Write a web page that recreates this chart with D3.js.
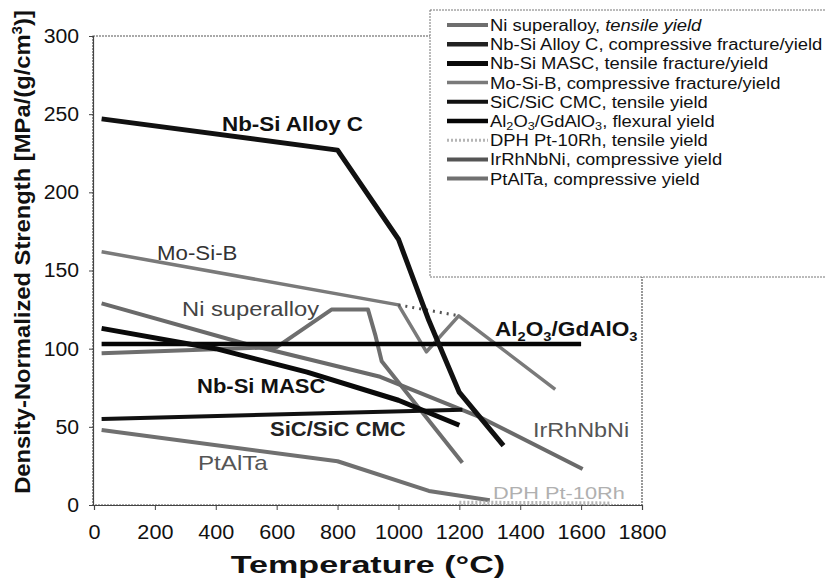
<!DOCTYPE html>
<html><head><meta charset="utf-8">
<script src="https://cdn.jsdelivr.net/npm/d3@7"></script>
<style>
html,body{margin:0;padding:0;background:#fff;}
svg{display:block;font-family:"Liberation Sans",Arial,Helvetica,sans-serif;}
</style></head>
<body><svg id="c" width="826" height="580"></svg>
<script>
// ---- data (Temperature °C, Density-normalized strength MPa/(g/cm3)) ----
const xTicks = [0,200,400,600,800,1000,1200,1400,1600,1800];
const yTicks = [0,50,100,150,200,250,300];
const niSuperalloy = [[25,97],[600,101],[780,125],[900,125],[925,108],[945,92],[1210,27]];
const nbSiAlloyC   = [[25,247],[800,227],[1000,170],[1100,118],[1200,72],[1345,38]];
const nbSiMASC     = [[25,113],[400,100],[700,85],[1000,67],[1200,51]];
const moSiB        = [[25,162],[1000,128],[1092,98],[1198,121],[1515,74]];
const moSiBDotted  = [[1000,128],[1200,121]];
const sicSicCMC    = [[25,55],[1210,61]];
const al2o3        = [[25,103],[1600,103]];
const dphPt10Rh    = [[1200,1.5],[1700,1]];
const irRhNbNi     = [[25,129],[500,103],[940,82],[1270,56],[1605,23]];
const ptAlTa       = [[25,48],[800,28],[1100,9],[1300,3]];
const legendLabels = ["Ni superalloy, ","Nb-Si Alloy C, compressive fracture/yield","Nb-Si MASC, tensile fracture/yield",
  "Mo-Si-B, compressive fracture/yield","SiC/SiC CMC, tensile yield","Al2O3/GdAlO3, flexural yield",
  "DPH Pt-10Rh, tensile yield","IrRhNbNi, compressive yield","PtAlTa, compressive yield"];

const svg = d3.select("#c");
const x = d3.scaleLinear().domain([0,1800]).range([94,642]);
const y = d3.scaleLinear().domain([0,300]).range([505,36]);

function stretch(sel,k){ sel.each(function(){ const l=this.getComputedTextLength(); d3.select(this).attr("textLength",l*k).attr("lengthAdjust","spacingAndGlyphs"); }); return sel; }

// frame
svg.append("rect").attr("x",x(0)-1).attr("y",y(300)).attr("width",x(1800)-x(0)+1).attr("height",y(0)-y(300))
  .attr("fill","none").attr("stroke","#555").attr("stroke-width",1.2).attr("stroke-dasharray","2,1");

// axes
const gx = svg.append("g").attr("transform",`translate(0,${y(0)})`)
  .call(d3.axisBottom(x).tickValues(xTicks).tickSize(5).tickPadding(15).tickFormat(d3.format("d")));
const gy = svg.append("g").attr("transform",`translate(${x(0)-1},0)`)
  .call(d3.axisLeft(y).tickValues(yTicks).tickSize(4).tickPadding(10).tickFormat(d3.format("d")));
[gx,gy].forEach(g=>{ g.select(".domain").attr("stroke","#444").attr("stroke-width",1.2);
  g.selectAll(".tick line").attr("stroke","#444");
  g.selectAll("text").attr("font-size",20).attr("fill","#111").attr("font-family","Liberation Sans, Arial, sans-serif"); });
stretch(gx.selectAll("text"),1.08);
stretch(gy.selectAll("text"),1.06);

// axis titles
stretch(svg.append("text").attr("x",368).attr("y",573).attr("text-anchor","middle")
  .attr("font-size",24).attr("font-weight","bold").attr("fill","#111").text("Temperature (°C)"),1.42);
const yt = svg.append("text").attr("transform","translate(30,252) rotate(-90)").attr("text-anchor","middle")
  .attr("font-size",22).attr("font-weight","bold").attr("fill","#111");
yt.append("tspan").text("Density-Normalized Strength [MPa/(g/cm");
yt.append("tspan").attr("font-size",14).attr("dy",-8).text("3");
yt.append("tspan").attr("dy",8).text(")]");
stretch(yt,1.08);

// lines
const line = d3.line().x(d=>x(d[0])).y(d=>y(d[1]));
const series = [
  {d:niSuperalloy, c:"#6e6e6e", w:4},
  {d:moSiB, c:"#7a7a7a", w:3.5},
  {d:irRhNbNi, c:"#6a6a6a", w:4},
  {d:ptAlTa, c:"#707070", w:4},
  {d:dphPt10Rh, c:"#b5b5b5", w:4, dash:"2,2"},
  {d:moSiBDotted, c:"#555", w:3, dash:"2,5"},
  {d:sicSicCMC, c:"#111", w:4},
  {d:al2o3, c:"#050505", w:4.5},
  {d:nbSiMASC, c:"#0a0a0a", w:5},
  {d:nbSiAlloyC, c:"#111", w:5}
];
series.forEach(s=>{
  svg.append("path").datum(s.d).attr("d",line).attr("fill","none").attr("stroke",s.c)
    .attr("stroke-width",s.w).attr("stroke-linejoin","round").attr("stroke-linecap","butt")
    .attr("stroke-dasharray",s.dash||null);
});

// in-plot labels
function lab(t,px,py,opt){ const e=svg.append("text").attr("x",px).attr("y",py).attr("font-size",opt.fs||20)
  .attr("font-weight",opt.b?"bold":"normal").attr("fill",opt.c||"#111").text(t); stretch(e,opt.k||1); return e; }
lab("Nb-Si Alloy C",222,131,{b:1,k:1.12});
lab("Mo-Si-B",157,260,{c:"#333",fs:21,k:1.06});
lab("Ni superalloy",182,316,{c:"#444",fs:21,k:1.13});
lab("Nb-Si MASC",197,393,{b:1,k:1.1});
lab("SiC/SiC CMC",270,436,{b:1,c:"#222",k:1.1});
lab("PtAlTa",198,470,{c:"#555",fs:21,k:1.15});
lab("IrRhNbNi",533,437,{c:"#555",fs:20,k:1.17});
lab("DPH Pt-10Rh",493,499,{c:"#b0b0b0",fs:17,k:1.28});
const al = svg.append("text").attr("x",495).attr("y",336).attr("font-size",20).attr("font-weight","bold").attr("fill","#111");
al.append("tspan").text("Al");
al.append("tspan").attr("font-size",13).attr("dy",5).text("2");
al.append("tspan").attr("dy",-5).text("O");
al.append("tspan").attr("font-size",13).attr("dy",5).text("3");
al.append("tspan").attr("dy",-5).text("/GdAlO");
al.append("tspan").attr("font-size",13).attr("dy",5).text("3");
stretch(al,1.13);

// legend
const lg = svg.append("g");
lg.append("rect").attr("x",430).attr("y",10).attr("width",400).attr("height",267)
  .attr("fill","#fff").attr("stroke","#777").attr("stroke-dasharray","2,1");
const legStyles = [
  {c:"#6e6e6e",w:4},{c:"#222",w:4.5},{c:"#0a0a0a",w:5},{c:"#7a7a7a",w:3.5},{c:"#111",w:4},
  {c:"#050505",w:4.5},{c:"#b5b5b5",w:3,dash:"2,2"},{c:"#555",w:4},{c:"#707070",w:4}];
legendLabels.forEach((t,i)=>{
  const yy = 25 + i*19.2;
  lg.append("line").attr("x1",447).attr("x2",488).attr("y1",yy).attr("y2",yy)
    .attr("stroke",legStyles[i].c).attr("stroke-width",legStyles[i].w).attr("stroke-dasharray",legStyles[i].dash||null);
  const tx = lg.append("text").attr("x",490).attr("y",yy+6).attr("font-size",16).attr("fill","#111");
  if(i===0){ tx.append("tspan").text(t); tx.append("tspan").attr("font-style","italic").text("tensile yield"); }
  else if(i===5){ tx.append("tspan").text("Al"); tx.append("tspan").attr("font-size",11).attr("dy",3).text("2");
    tx.append("tspan").attr("dy",-3).text("O"); tx.append("tspan").attr("font-size",11).attr("dy",3).text("3");
    tx.append("tspan").attr("dy",-3).text("/GdAlO"); tx.append("tspan").attr("font-size",11).attr("dy",3).text("3");
    tx.append("tspan").attr("dy",-3).text(", flexural yield"); }
  else tx.text(t);
  stretch(tx,1.15);
});
</script></body></html>
